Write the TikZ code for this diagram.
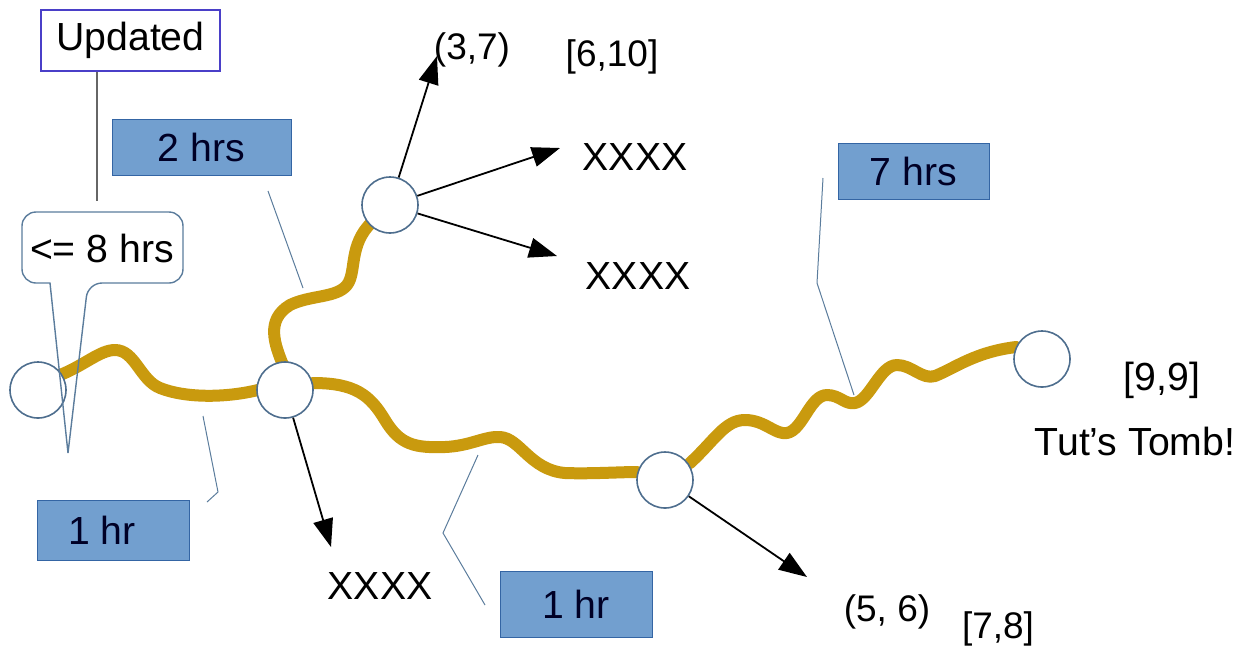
\documentclass[tikz,border=0pt]{standalone}
\usepackage{fontspec}
\setmainfont{Liberation Sans}
\usetikzlibrary{arrows.meta}
\definecolor{trail}{HTML}{C99A0E}
\definecolor{boxfill}{HTML}{729FCF}
\definecolor{boxedge}{HTML}{3465A4}
\definecolor{ringedge}{HTML}{4E6E8E}
\definecolor{leader}{HTML}{5B7C9C}
\definecolor{noteedge}{HTML}{4A3FC8}
\begin{document}
\begin{tikzpicture}[x=0.5pt,y=-0.5pt,
  big/.style={font=\fontsize{19.6pt}{23pt}\selectfont, inner sep=0pt},
  small/.style={font=\fontsize{18.5pt}{22pt}\selectfont, inner sep=0pt},
  stop/.style={circle, draw=ringedge, line width=0.8pt, fill=white, minimum size=28pt, inner sep=0pt},
  hours/.style={big, draw=boxedge, line width=0.5pt, fill=boxfill, text=black!85!blue, minimum height=28pt},
  path trail/.style={trail, line width=6pt, line cap=round, line join=round},
  leadline/.style={leader, line width=0.5pt},
  pointer/.style={black, line width=0.9pt, -{Triangle[length=14pt,width=10pt]}}
]
\useasboundingbox (0,0) rectangle (1242,650);

% trails between stops
\draw[path trail] (60,375) .. controls (85,365) and (100,350) .. (115,350)
  .. controls (135,350) and (140,380) .. (160,388)
  .. controls (185,398) and (225,398) .. (258,390);
\draw[path trail] (283,365) .. controls (275,345) and (265,320) .. (290,305)
  .. controls (310,295) and (337,298) .. (347,285)
  .. controls (357,272) and (348,245) .. (372,222);
\draw[path trail] (313,383) .. controls (355,383) and (370,395) .. (385,420)
  .. controls (400,445) and (415,448) .. (445,447)
  .. controls (470,446) and (485,436) .. (500,437)
  .. controls (520,438) and (530,470) .. (565,473)
  .. controls (590,474) and (620,472) .. (637,472);
\draw[path trail] (690,463) .. controls (715,440) and (725,420) .. (745,420)
  .. controls (765,420) and (775,435) .. (787,433)
  .. controls (803,430) and (810,395) .. (827,395)
  .. controls (840,395) and (845,405) .. (855,403)
  .. controls (870,400) and (880,365) .. (897,365)
  .. controls (912,365) and (922,380) .. (935,376)
  .. controls (955,368) and (975,352) .. (1016,347);

% stops
\node[stop] (a) at (38,390) {};
\node[stop] (b) at (285,390) {};
\node[stop] (c) at (390,205) {};
\node[stop] (d) at (665,480) {};
\node[stop] (e) at (1042,359) {};

% labels
\node[small] (t37) at (472,50) {(3,7)};
\node[small] (t610) at (612,57) {[6,10]};
\node[big] (x1) at (635,157) {XXXX};
\node[big] (x2) at (638,276) {XXXX};
\node[big] (x3) at (380,586) {XXXX};
\node[small] (t56) at (887,612) {(5, 6)};
\node[small] (t78) at (998,629) {[7,8]};
\node[big] (t99) at (1162,380) {[9,9]};
\node[big] (tomb) at (1135,441) {Tut’s Tomb!};

% arrows out of the stops
\coordinate (p1) at (437,56);
\coordinate (p2) at (560,148);
\coordinate (p3) at (557,256);
\coordinate (p4) at (331,547);
\coordinate (p5) at (807,577);
\draw[pointer] (c) -- (p1);
\draw[pointer] (c) -- (p2);
\draw[pointer] (c) -- (p3);
\draw[pointer] (b) -- (p4);
\draw[pointer] (d) -- (p5);

% hour boxes
\node[hours, minimum width=89.5pt] (h2) at (201.5,147) {2 hrs};
\node[hours, minimum width=76pt, minimum height=30pt] (h1a) at (113,530) {\hspace*{-11pt}1 hr};
\node[hours, minimum width=76pt, minimum height=33pt] (h1b) at (576,604) {1 hr};
\node[hours, minimum width=75.5pt] (h7) at (913.5,171) {7 hrs};

% leader lines
\coordinate (l2a) at (268,191);
\coordinate (l2b) at (303,288);
\draw[leadline] (l2a) -- (l2b);
\coordinate (l1a) at (203,416);
\coordinate (l1b) at (218,492);
\coordinate (l1c) at (207,502);
\draw[leadline] (l1a) -- (l1b) -- (l1c);
\coordinate (l3a) at (478,455);
\coordinate (l3b) at (443,533);
\coordinate (l3c) at (485,605);
\draw[leadline] (l3a) -- (l3b) -- (l3c);
\coordinate (l7a) at (823,178);
\coordinate (l7b) at (817,283);
\coordinate (l7c) at (854,395);
\draw[leadline] (l7a) -- (l7b) -- (l7c);

% "Updated" note and its stem
\node[big, draw=noteedge, line width=0.6pt, fill=white, minimum width=89.5pt, minimum height=30.5pt] (upd) at (130.5,40.5) {Updated};
\coordinate (stem) at (97,201);
\draw[black!60, line width=0.8pt] (upd.south -| stem) -- (stem);

% speech bubble
\node[big] (le8) at (102,248) {<= 8 hrs};
\coordinate (tip) at (68,453);
\draw[leader, line width=0.7pt] (tip) -- (50,283) [rounded corners=7pt] -- (22,283) -- (22,212) -- (183,212) -- (183,283) -- (88,283) [sharp corners] -- (tip);
\end{tikzpicture}
\end{document}
